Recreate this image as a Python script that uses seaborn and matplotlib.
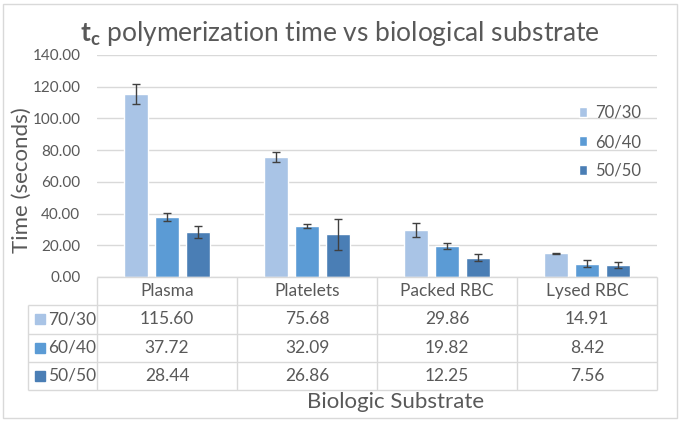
import matplotlib
matplotlib.use("Agg")
import matplotlib.pyplot as plt
import numpy as np
import pandas as pd
import seaborn as sns
from matplotlib.patches import Rectangle

# ----------------------------------------------------------
# Data
# ----------------------------------------------------------
substrates = ["Plasma", "Platelets", "Packed RBC", "Lysed RBC"]
ratios = ["70/30", "60/40", "50/50"]

time_7030 = [115.60, 75.68, 29.86, 14.91]
time_6040 = [37.72, 32.09, 19.82, 8.42]
time_5050 = [28.44, 26.86, 12.25, 7.56]

err_7030 = [6.3, 3.1, 4.4, 0.3]
err_6040 = [2.6, 1.5, 1.9, 2.0]
err_5050 = [4.0, 10.0, 2.0, 1.7]

colors = ["#A9C4E6", "#5B9BD5", "#4A7EB5"]
grey = "#595959"
line_grey = "#D9D9D9"

times = [time_7030, time_6040, time_5050]
errs = [err_7030, err_6040, err_5050]

df = pd.DataFrame({
    "Substrate": substrates * 3,
    "Ratio": np.repeat(ratios, len(substrates)),
    "Time": time_7030 + time_6040 + time_5050,
})

# ----------------------------------------------------------
# Style
# ----------------------------------------------------------
sns.set_style("white")
plt.rcParams["font.family"] = ["Lato", "DejaVu Sans"]
plt.rcParams["mathtext.fontset"] = "custom"
plt.rcParams["mathtext.rm"] = "Lato"
plt.rcParams["mathtext.bf"] = "Lato:bold"

W, H = 682, 422
fig = plt.figure(figsize=(W / 100, H / 100), dpi=100)

# plot area (pixels): x 97..657, y 55..277
ax = fig.add_axes([97 / W, (H - 277) / H, 560 / W, 222 / H])

sns.barplot(
    data=df, x="Substrate", y="Time", hue="Ratio",
    order=substrates, hue_order=ratios, palette=colors,
    width=0.664, gap=0.23, errorbar=None, saturation=1, ax=ax,
)

for cont, err in zip(ax.containers, errs):
    xs = [b.get_x() + b.get_width() / 2 for b in cont]
    ys = [b.get_height() for b in cont]
    ax.errorbar(xs, ys, yerr=err, fmt="none", ecolor="#404040",
                elinewidth=1, capsize=3.2, capthick=1, zorder=5)

ax.set_xlim(-0.5, 3.5)
ax.set_ylim(0, 140)
ax.set_yticks(np.arange(0, 141, 20))
ax.set_yticklabels([f"{v:.2f}" for v in np.arange(0, 141, 20)],
                   fontsize=11, color=grey)
ax.set_xticks([])
ax.set_xlabel("")
ax.set_ylabel("")
ax.grid(axis="y", color=line_grey, lw=1)
ax.set_axisbelow(True)
for s in ["top", "right", "left", "bottom"]:
    ax.spines[s].set_visible(False)
ax.tick_params(axis="y", length=0, pad=12)

ax.legend(title=None, frameon=False, loc="upper left",
          bbox_to_anchor=(564 / W, (H - 90) / H), bbox_transform=fig.transFigure,
          fontsize=12, handlelength=0.5, handleheight=0.5,
          handletextpad=0.45, labelspacing=0.78, labelcolor=grey)

# ----------------------------------------------------------
# Data table under the plot
# ----------------------------------------------------------
left_x = -0.5 - 69 / 140
tax = fig.add_axes([28 / W, (H - 390) / H, 629 / W, 113 / H])
tax.set_xlim(left_x, 3.5)
tax.set_ylim(4, 0)
tax.axis("off")

tax.hlines(0, -0.5, 3.5, color=line_grey, lw=1, clip_on=False)
tax.hlines([1, 2, 3, 4], left_x, 3.5, color=line_grey, lw=1, clip_on=False)
tax.vlines(left_x, 1, 4, color=line_grey, lw=1, clip_on=False)
tax.vlines(np.arange(-0.5, 3.6, 1), 0, 4, color=line_grey, lw=1, clip_on=False)

for i, name in enumerate(substrates):
    tax.text(i, 0.5, name, ha="center", va="center", fontsize=12.5, color=grey)

for r, (lab, vals, c) in enumerate(zip(ratios, times, colors)):
    y = r + 1.5
    tax.plot(left_x + 12 / 140, y, marker="s", ms=6.5, color=c, clip_on=False)
    tax.text(left_x + 20 / 140, y, lab, ha="left", va="center", fontsize=12.5, color=grey)
    for i, v in enumerate(vals):
        tax.text(i, y, f"{v:.2f}", ha="center", va="center", fontsize=12.5, color=grey)

# ----------------------------------------------------------
# Titles and frame
# ----------------------------------------------------------
fig.text(340 / W, 1 - 33 / H,
         r"$\mathbf{t}_{\mathbf{c}}$ polymerization time vs biological substrate",
         ha="center", va="center", fontsize=19, color=grey)
fig.text(22 / W, 1 - 180 / H, "Time (seconds)", rotation=90,
         ha="center", va="center", fontsize=16, color=grey)
fig.text(396 / W, 1 - 402 / H, "Biologic Substrate",
         ha="center", va="center", fontsize=16, color=grey)

fig.patches.append(Rectangle((3 / W, 4 / H), 674 / W, 414 / H,
                             transform=fig.transFigure, fill=False,
                             ec=line_grey, lw=1))

fig.savefig("out.png", dpi=100)
